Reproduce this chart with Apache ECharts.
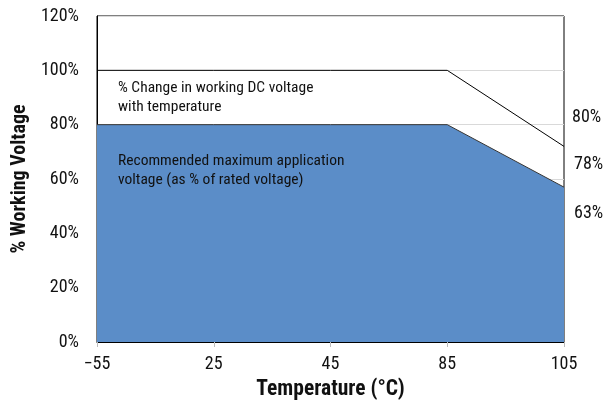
<!DOCTYPE html>
<html><head><meta charset="utf-8">
<script src="https://cdn.jsdelivr.net/npm/echarts@6/dist/echarts.min.js"></script>
<style>html,body{margin:0;padding:0;background:#fff}#c{width:615px;height:407px}</style>
</head><body><div id="c"></div>
<script>
const categories = ['\u221255', '25', '45', '85', '105'];
const workingVoltage = [100, 100, 100, 100, 72];
const recommendedVoltage = [80, 80, 80, 80, 57];
const yTicks = [0, 20, 40, 60, 80, 100, 120];
const rightLabels = ['80%', '78%', '63%'];
const FONT = "'Roboto Condensed','Liberation Sans Narrow','Roboto',sans-serif";

const chart = echarts.init(document.getElementById('c'));
chart.setOption({
  animation: false,
  grid: {left: 97, right: 51, top: 16, bottom: 65, show: true, borderColor: '#000', borderWidth: 1, backgroundColor: 'transparent'},
  xAxis: {
    type: 'category', data: categories, boundaryGap: false,
    axisLine: {lineStyle: {color: '#000', width: 1}},
    axisTick: {show: true, alignWithLabel: true, length: 5, lineStyle: {color: '#bbb'}},
    axisLabel: {color: '#111', fontSize: 18, fontFamily: FONT, margin: 13},
    name: 'Temperature (\u00b0C)', nameLocation: 'middle', nameGap: 37,
    nameTextStyle: {color: '#111', fontSize: 21.5, fontWeight: 'bold', fontFamily: FONT},
    splitLine: {show: false}
  },
  yAxis: {
    type: 'value', min: 0, max: 120, interval: 20,
    axisLine: {show: true, lineStyle: {color: '#000', width: 1}},
    axisTick: {show: false},
    axisLabel: {color: '#111', fontSize: 18, fontFamily: FONT, margin: 18, formatter: v => yTicks.includes(v) ? v + '%' : ''},
    splitLine: {lineStyle: {color: '#d9d9d9', width: 1}},
    name: '% Working Voltage', nameLocation: 'middle', nameGap: 58, nameRotate: 90,
    nameTextStyle: {color: '#111', fontSize: 20, fontWeight: 'bold', fontFamily: FONT}
  },
  series: [
    {
      type: 'line', data: recommendedVoltage, symbol: 'none', z: 2,
      lineStyle: {color: '#333', width: 1},
      areaStyle: {color: '#5b8dc8', opacity: 1}
    },
    {
      type: 'line', data: workingVoltage, symbol: 'none', z: 3,
      lineStyle: {color: '#000', width: 1}
    }
  ],
  graphic: [
    {type: 'text', z: 100, left: 118, top: 79, style: {text: '% Change in working DC voltage\nwith temperature', fill: '#111', font: '15.5px ' + FONT, lineHeight: 19}},
    {type: 'text', z: 100, left: 118, top: 152, style: {text: 'Recommended maximum application\nvoltage (as % of rated voltage)', fill: '#111', font: '15.5px ' + FONT, lineHeight: 19}},
    {type: 'text', z: 100, left: 572, top: 108, style: {text: rightLabels[0], fill: '#111', font: '18px ' + FONT}},
    {type: 'text', z: 100, left: 574, top: 155, style: {text: rightLabels[1], fill: '#111', font: '18px ' + FONT}},
    {type: 'text', z: 100, left: 574, top: 204, style: {text: rightLabels[2], fill: '#111', font: '18px ' + FONT}}
  ]
});
</script></body></html>
